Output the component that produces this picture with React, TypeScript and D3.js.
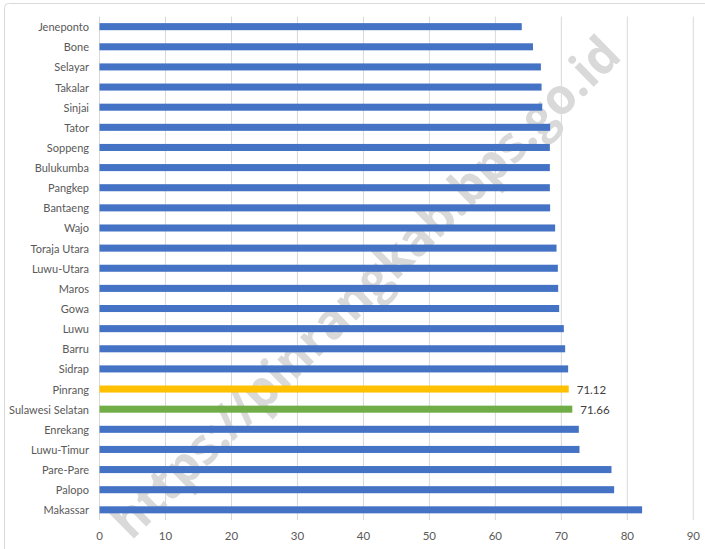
import React from "react";
import * as d3 from "d3";

const categories = [
  "Jeneponto", "Bone", "Selayar", "Takalar", "Sinjai", "Tator", "Soppeng",
  "Bulukumba", "Pangkep", "Bantaeng", "Wajo", "Toraja Utara", "Luwu-Utara",
  "Maros", "Gowa", "Luwu", "Barru", "Sidrap", "Pinrang", "Sulawesi Selatan",
  "Enrekang", "Luwu-Timur", "Pare-Pare", "Palopo", "Makassar",
];
const values = [
  64.0, 65.7, 66.9, 67.0, 67.1, 68.3, 68.26, 68.26, 68.26, 68.3, 69.06,
  69.27, 69.47, 69.52, 69.67, 70.38, 70.58, 71.03, 71.12, 71.66, 72.65,
  72.75, 77.6, 78.0, 82.24,
];
const highlighted: Record<string, string> = {
  Pinrang: "#FFC000",
  "Sulawesi Selatan": "#70AD47",
};
const labelled = ["Pinrang", "Sulawesi Selatan"];
const xTicks = [0, 10, 20, 30, 40, 50, 60, 70, 80, 90];
const watermark = "https://pinrangkab.bps.go.id";

export default function App() {
  const W = 705, H = 549;
  const x = d3.scaleLinear().domain([0, 90]).range([99.5, 693.3]);
  const y = d3.scaleBand().domain(categories).range([16.5, 520]).paddingInner(0.65).paddingOuter(0.33);
  const font = "Lato, 'Open Sans', sans-serif";
  return (
    <div style={{ position: "absolute", left: 0, top: 0 }}>
      <svg width={W} height={H} style={{ display: "block" }}>
        <rect x={0} y={0} width={W} height={H} fill="#fff" />
        <rect x={4.5} y={3.5} width={W + 20} height={H + 20} rx={4} fill="none" stroke="#d9d9d9" strokeWidth={1} />
        {xTicks.map((t) => (
          <line key={t} x1={x(t)} x2={x(t)} y1={16.5} y2={520} stroke="#d9d9d9" strokeWidth={1} />
        ))}
        <text
          x={0}
          y={0}
          transform={`translate(364,286) rotate(-44.5)`}
          textAnchor="middle"
          dominantBaseline="central"
          fontFamily="'Open Sans', 'DejaVu Sans', sans-serif"
          fontWeight={700}
          fontSize={50}
          fill="#d9d9d9"
          textLength={690}
          lengthAdjust="spacingAndGlyphs"
        >
          {watermark}
        </text>
        {categories.map((c, i) => {
          const yy = y(c)!;
          const bh = y.bandwidth();
          return (
            <g key={c}>
              <rect x={x(0)} y={yy} width={x(values[i]) - x(0)} height={bh} fill={highlighted[c] || "#4472C4"} />
              <text x={89} y={yy + bh / 2} textAnchor="end" dominantBaseline="central" fontFamily={font} fontSize={11} fill="#595959">
                {c}
              </text>
              {labelled.includes(c) && (
                <text x={x(values[i]) + 8} y={yy + bh / 2} dominantBaseline="central" fontFamily={font} fontSize={11.5} fill="#404040">
                  {values[i].toFixed(2)}
                </text>
              )}
            </g>
          );
        })}
        {xTicks.map((t) => (
          <text key={t} x={x(t)} y={535} textAnchor="middle" dominantBaseline="central" fontFamily={font} fontSize={11.5} fill="#595959">
            {t}
          </text>
        ))}
      </svg>
    </div>
  );
}
